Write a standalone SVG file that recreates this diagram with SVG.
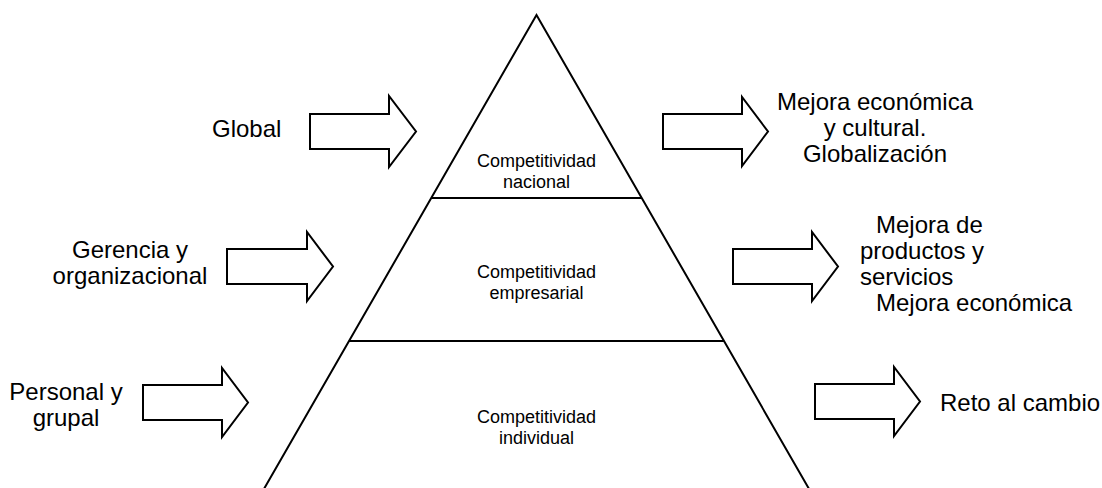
<svg xmlns="http://www.w3.org/2000/svg" width="1102" height="488" viewBox="0 0 1102 488">
<style>
.shape{fill:#fff;stroke:#000;stroke-width:2;stroke-linejoin:miter}
.line{stroke:#000;stroke-width:2;fill:none}
.big{font-family:"Liberation Sans",Arial,sans-serif;font-size:24px;fill:#000}
.small{font-family:"Liberation Sans",Arial,sans-serif;font-size:18px;fill:#000;text-anchor:middle}
</style>
<rect width="1102" height="488" fill="#fff"/>
<g id="pyramid">
<polygon class="shape" points="536.5,15 257.6,500 815.4,500"/>
<line class="line" x1="431.3" y1="198" x2="641.7" y2="198"/>
<line class="line" x1="349" y1="341" x2="724" y2="341"/>
</g>
<g id="level-nacional">
<text class="small" x="536.5" y="167">Competitividad</text>
<text class="small" x="536.5" y="188">nacional</text>
</g>
<g id="level-empresarial">
<text class="small" x="536.5" y="278">Competitividad</text>
<text class="small" x="536.5" y="299">empresarial</text>
</g>
<g id="level-individual">
<text class="small" x="536.5" y="423">Competitividad</text>
<text class="small" x="536.5" y="444">individual</text>
</g>
<g id="arrow-in-global"><path class="shape" d="M310,114 H389 V96 L416,131.5 L389,167 V149 H310 Z"/></g>
<g id="arrow-in-gerencia"><path class="shape" d="M227,249 H307 V232 L333,266.5 L307,301 V284 H227 Z"/></g>
<g id="arrow-in-personal"><path class="shape" d="M143,385 H222 V368 L248,402.5 L222,437 V420 H143 Z"/></g>
<g id="arrow-out-global"><path class="shape" d="M663,114 H742 V97 L768,131.5 L742,166 V149 H663 Z"/></g>
<g id="arrow-out-empresarial"><path class="shape" d="M733,249 H812 V232 L838,266.5 L812,301 V284 H733 Z"/></g>
<g id="arrow-out-individual"><path class="shape" d="M815,384 H894 V367 L920,401.5 L894,436 V419 H815 Z"/></g>
<g id="label-global"><text class="big" x="212" y="137">Global</text></g>
<g id="label-gerencia" text-anchor="middle">
<text class="big" x="130" y="258">Gerencia y</text>
<text class="big" x="130" y="284">organizacional</text>
</g>
<g id="label-personal" text-anchor="middle">
<text class="big" x="66" y="400">Personal y</text>
<text class="big" x="66" y="426">grupal</text>
</g>
<g id="label-mejora-cultural" text-anchor="middle">
<text class="big" x="875" y="110">Mejora económica</text>
<text class="big" x="875" y="136">y cultural.</text>
<text class="big" x="875" y="162">Globalización</text>
</g>
<g id="label-mejora-productos">
<text class="big" x="876" y="233">Mejora de</text>
<text class="big" x="860" y="259">productos y</text>
<text class="big" x="860" y="285">servicios</text>
<text class="big" x="876" y="311">Mejora económica</text>
</g>
<g id="label-reto"><text class="big" x="940" y="411">Reto al cambio</text></g>
<g id="connectors"/>
</svg>
